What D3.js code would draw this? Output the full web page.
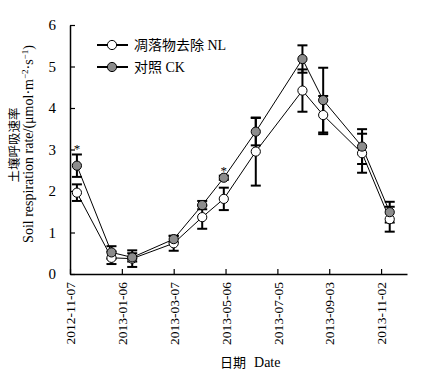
<!DOCTYPE html>
<html lang="zh">
<head>
<meta charset="UTF-8">
<title>Soil respiration</title>
<script src="https://cdn.jsdelivr.net/npm/d3@7"></script>
<style>
    body { margin: 0; background: #fff; }
    text { font-family: "Liberation Serif", "Times New Roman", serif; fill: #000; }
    .cjk { font-family: "Liberation Serif", "Noto Sans CJK SC", serif; }
</style>
</head>
<body>
<script>
    // sampling dates and the two series (mean, error)
    const dates  = ["2012-11-15", "2012-12-25", "2013-01-18", "2013-03-07", "2013-04-09", "2013-05-04",
                    "2013-06-10", "2013-08-03", "2013-08-27", "2013-10-11", "2013-11-12"];
    const nlMean = [1.96, 0.39, 0.37, 0.74, 1.37, 1.81, 2.95, 4.42, 3.83, 2.91, 1.32];
    const nlErr  = [0.20, 0.15, 0.20, 0.18, 0.28, 0.27, 0.82, 0.51, 0.46, 0.47, 0.30];
    const ckMean = [2.61, 0.52, 0.40, 0.84, 1.66, 2.32, 3.43, 5.18, 4.19, 3.07, 1.49];
    const ckErr  = [0.27, 0.15, 0.10, 0.08, 0.10, 0.05, 0.33, 0.33, 0.78, 0.42, 0.25];
    const starAt = [0, 5];   // significant points (index)
    const tickDates = ["2012-11-07", "2013-01-06", "2013-03-07", "2013-05-06", "2013-07-05", "2013-09-03", "2013-11-02"];
    const yTicks = [0, 1, 2, 3, 4, 5, 6];

    const width = 427, height = 377;
    const parse = d3.utcParse("%Y-%m-%d");
    const fmt = d3.utcFormat("%Y-%m-%d");

    const svg = d3.select("body").append("svg")
        .attr("width", width).attr("height", height);

    const x = d3.scaleUtc()
        .domain([parse("2012-11-07"), parse("2013-12-02")])
        .range([70, 407]);
    const y = d3.scaleLinear().domain([0, 6]).range([274, 25]);

    // axes
    const xAxis = d3.axisBottom(x)
        .tickValues(tickDates.map(parse))
        .tickFormat(fmt)
        .tickSizeInner(-5).tickSizeOuter(0);
    const gx = svg.append("g").attr("transform", "translate(0,274)").call(xAxis);
    gx.attr("font-family", null);
    gx.select(".domain").attr("stroke", "#000").attr("stroke-width", 1.5);
    gx.selectAll(".tick line").attr("stroke", "#000").attr("stroke-width", 1.2);
    gx.selectAll(".tick text")
        .style("font-family", "'Liberation Serif', serif")
        .style("font-size", "13.5px")
        .attr("transform", "rotate(-90)")
        .attr("text-anchor", "end")
        .attr("x", -8).attr("y", 0).attr("dy", "0.35em");

    const yAxis = d3.axisLeft(y).tickValues(yTicks).tickFormat(d3.format("d"))
        .tickSizeInner(-5).tickSizeOuter(0).tickPadding(14);
    const gy = svg.append("g").attr("transform", "translate(70,0)").call(yAxis);
    gy.attr("font-family", null);
    gy.select(".domain").attr("stroke", "#000").attr("stroke-width", 1.5);
    gy.selectAll(".tick line").attr("stroke", "#000").attr("stroke-width", 1.2);
    gy.selectAll(".tick text").style("font-family", "'Liberation Serif', serif").style("font-size", "15px");

    // axis titles
    svg.append("text").attr("class", "cjk")
        .attr("transform", "translate(19,145) rotate(-90)")
        .attr("text-anchor", "middle").attr("font-size", 12.5)
        .text("土壤呼吸速率");
    const yt = svg.append("text")
        .attr("transform", "translate(33,144) rotate(-90)")
        .attr("text-anchor", "middle").attr("font-size", 14);
    yt.append("tspan").text("Soil respiration rate/(μmol·m");
    yt.append("tspan").attr("font-size", 9).attr("dy", -5).text("−2");
    yt.append("tspan").attr("dy", 5).text("·s");
    yt.append("tspan").attr("font-size", 9).attr("dy", -5).text("−1");
    yt.append("tspan").attr("dy", 5).text(")");

    const xt = svg.append("text").attr("x", 220).attr("y", 367).attr("font-size", 13);
    xt.append("tspan").attr("class", "cjk").text("日期");
    xt.append("tspan").attr("dx", 8).attr("font-size", 14).text("Date");

    const series = [
        {mean: ckMean, err: ckErr, fill: "#8c8c8c"},
        {mean: nlMean, err: nlErr, fill: "#fff"}
    ];

    // error bars
    series.forEach(s => {
        const g = svg.append("g").attr("stroke", "#000").attr("stroke-width", 2);
        dates.forEach((d, i) => {
            const cx = x(parse(d));
            const y0 = y(s.mean[i] - s.err[i]), y1 = y(s.mean[i] + s.err[i]);
            g.append("line").attr("x1", cx).attr("x2", cx).attr("y1", y0).attr("y2", y1);
            g.append("line").attr("x1", cx - 5).attr("x2", cx + 5).attr("y1", y0).attr("y2", y0);
            g.append("line").attr("x1", cx - 5).attr("x2", cx + 5).attr("y1", y1).attr("y2", y1);
        });
    });

    // lines
    const line = d3.line().x((d, i) => x(parse(dates[i]))).y(d => y(d));
    series.forEach(s => {
        svg.append("path").datum(s.mean)
            .attr("d", line).attr("fill", "none")
            .attr("stroke", "#000").attr("stroke-width", 1);
    });

    // markers (NL drawn first, CK on top)
    [series[1], series[0]].forEach(s => {
        svg.append("g").selectAll("circle").data(s.mean).join("circle")
            .attr("cx", (d, i) => x(parse(dates[i])))
            .attr("cy", d => y(d))
            .attr("r", 4.6)
            .attr("fill", s.fill).attr("stroke", "#000").attr("stroke-width", 1);
    });

    // significance marks
    svg.selectAll("text.star").data(starAt).join("text").attr("class", "star")
        .attr("x", i => x(parse(dates[i])))
        .attr("y", i => y(ckMean[i] + ckErr[i]) - 1)
        .attr("text-anchor", "middle").attr("font-size", 13)
        .text("*");

    // legend
    const legend = [
        {label: "凋落物去除 NL", fill: "#fff"},
        {label: "对照 CK", fill: "#8c8c8c"}
    ];
    const lg = svg.append("g").selectAll("g").data(legend).join("g")
        .attr("transform", (d, i) => `translate(97,${45 + i * 22})`);
    lg.append("line").attr("x1", 0).attr("x2", 31).attr("stroke", "#000").attr("stroke-width", 2);
    lg.append("circle").attr("cx", 15).attr("r", 4.6)
        .attr("fill", d => d.fill).attr("stroke", "#000");
    lg.append("text").attr("class", "cjk").attr("x", 37).attr("dy", "0.35em")
        .attr("font-size", 14).text(d => d.label);
</script>
</body>
</html>
